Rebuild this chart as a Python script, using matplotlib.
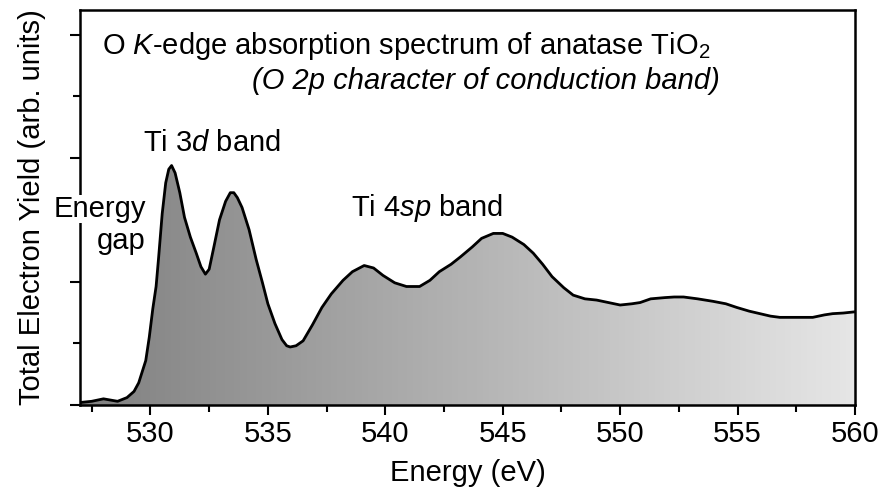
import numpy as np
import matplotlib
matplotlib.use('Agg')
import matplotlib.pyplot as plt
from matplotlib.colors import LinearSegmentedColormap
from matplotlib.ticker import MultipleLocator

plt.rcParams['font.family'] = 'Liberation Sans'
plt.rcParams['mathtext.fontset'] = 'custom'
plt.rcParams['mathtext.rm'] = 'Liberation Sans'
plt.rcParams['mathtext.it'] = 'Liberation Sans:italic'

FS = 21

# O K-edge TEY spectrum (energy in eV, yield in arb. units)
energy = [527.0, 527.5, 528.0, 528.6, 529.0, 529.3, 529.5, 529.65, 529.8, 529.95,
          530.1, 530.24, 530.35, 530.5, 530.65, 530.78, 530.9, 531.05, 531.25,
          531.45, 531.7, 531.95, 532.15, 532.34, 532.5, 532.7, 532.94, 533.2,
          533.4, 533.55, 533.7, 533.9, 534.2, 534.5, 534.77, 535.0, 535.3,
          535.6, 535.8, 535.95, 536.2, 536.5, 536.9, 537.3, 537.7, 538.2,
          538.6, 539.1, 539.5, 539.9, 540.4, 540.9, 541.46, 541.9, 542.3,
          542.8, 543.2, 543.7, 544.1, 544.6, 545.0, 545.4, 545.9, 546.3,
          546.7, 547.1, 547.6, 548.0, 548.5, 549.0, 549.5, 550.0, 550.5,
          550.85, 551.3, 551.9, 552.3, 552.7, 553.3, 553.95, 554.5, 554.97,
          555.5, 555.95, 556.4, 556.8, 557.5, 558.2, 558.7, 559.05, 559.5, 560.0]
yield_tey = [0.02, 0.03, 0.05, 0.03, 0.06, 0.11, 0.18, 0.27, 0.36, 0.55,
             0.78, 0.96, 1.20, 1.55, 1.80, 1.91, 1.94, 1.88, 1.72,
             1.52, 1.36, 1.23, 1.12, 1.06, 1.10, 1.28, 1.50, 1.65,
             1.72, 1.72, 1.68, 1.60, 1.42, 1.18, 0.99, 0.82, 0.66,
             0.53, 0.48, 0.47, 0.48, 0.52, 0.65, 0.79, 0.90, 1.01,
             1.08, 1.13, 1.11, 1.05, 0.99, 0.96, 0.96, 1.01, 1.08,
             1.14, 1.20, 1.28, 1.35, 1.39, 1.39, 1.36, 1.30, 1.23,
             1.14, 1.04, 0.95, 0.89, 0.86, 0.85, 0.83, 0.81, 0.82,
             0.83, 0.86, 0.87, 0.875, 0.875, 0.86, 0.84, 0.82, 0.79,
             0.76, 0.74, 0.72, 0.71, 0.71, 0.71, 0.73, 0.74, 0.745, 0.755]

fig = plt.figure(figsize=(8.81, 4.92), dpi=100)
ax = fig.add_axes([80 / 881, 87 / 492, 775 / 881, 395 / 492])

x = np.array(energy)
y = np.array(yield_tey)

# gray gradient fill under the curve
grey = LinearSegmentedColormap.from_list('grey', ['#808080', '#e6e6e6'])
grad = np.linspace(0, 1, 256).reshape(1, -1)
im = ax.imshow(grad, cmap=grey, aspect='auto', extent=[527, 560, 0, 3.2],
               origin='lower', zorder=1)
poly = ax.fill_between(x, 0, y, facecolor='none', edgecolor='none')
im.set_clip_path(poly.get_paths()[0], transform=ax.transData)

ax.plot(x, y, color='black', lw=2, zorder=3, solid_joinstyle='round')

ax.set_xlim(527, 560)
ax.set_ylim(0, 3.2)
ax.xaxis.set_major_locator(MultipleLocator(5))
ax.xaxis.set_minor_locator(MultipleLocator(2.5))
ax.yaxis.set_major_locator(MultipleLocator(1))
ax.yaxis.set_minor_locator(MultipleLocator(0.5))
ax.set_yticklabels([])
ax.tick_params(which='both', direction='out', width=1.5, labelsize=FS)
ax.tick_params(which='major', length=7)
ax.tick_params(which='minor', length=5)
for s in ax.spines.values():
    s.set_linewidth(1.8)

ax.set_xlabel('Energy (eV)', fontsize=FS, labelpad=8)
ax.set_ylabel('Total Electron Yield (arb. units)', fontsize=FS, labelpad=14)

ax.text(0.028, 0.91, 'O $K$-edge absorption spectrum of anatase TiO$_2$',
        transform=ax.transAxes, fontsize=FS, va='center', ha='left')
ax.text(0.825, 0.82, '(O 2p character of conduction band)', style='italic',
        transform=ax.transAxes, fontsize=FS, va='center', ha='right')
ax.text(532.6, 2.12, 'Ti $3d$ band', fontsize=FS, ha='center', va='center')
ax.text(541.8, 1.6, 'Ti 4$sp$ band', fontsize=FS, ha='center', va='center')
ax.text(529.8, 1.59, 'Energy', fontsize=FS, ha='right', va='center',
        bbox=dict(facecolor='white', edgecolor='none', pad=0),
        zorder=5, clip_on=False)
ax.text(529.8, 1.33, 'gap', fontsize=FS, ha='right', va='center')

fig.savefig('out.png', dpi=100)
